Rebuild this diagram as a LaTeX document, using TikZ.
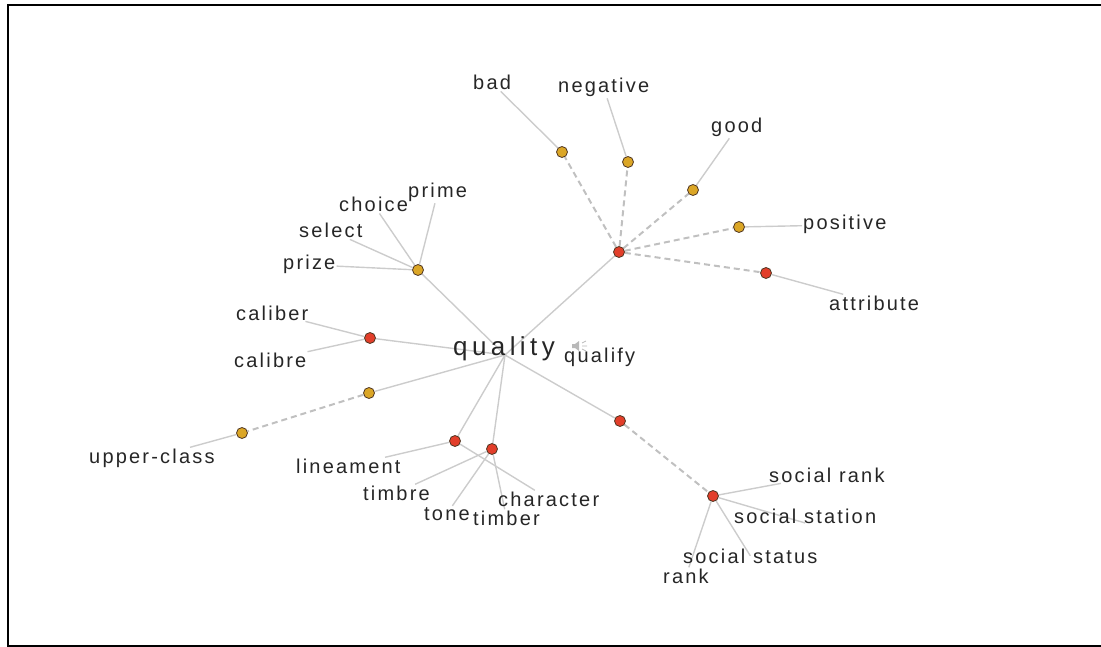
\documentclass[tikz,border=0pt]{standalone}
\usepackage{fontspec}
\setmainfont{Liberation Sans}
\newfontfamily\wordfont[LetterSpace=11]{Liberation Sans}
\newfontfamily\headfont[LetterSpace=17]{Liberation Sans}
\usetikzlibrary{backgrounds}
\definecolor{sensered}{RGB}{226,62,42}
\definecolor{senseyellow}{RGB}{219,166,38}
\definecolor{dotrim}{RGB}{80,55,35}
\definecolor{linkgray}{RGB}{204,204,204}
\definecolor{dashgray}{RGB}{192,192,192}

\begin{document}
\begin{tikzpicture}[x=1pt,y=-1pt,
    redpt/.style={circle,draw=dotrim,line width=0.8pt,fill=sensered,minimum size=11pt,inner sep=0pt},
    yelpt/.style={redpt,fill=senseyellow},
    word/.style={anchor=base west,inner sep=1pt,text=black!85,font=\wordfont\fontsize{20}{22}\selectfont},
    link/.style={draw=linkgray,line width=1.4pt},
    dlink/.style={draw=dashgray,line width=2pt,dash pattern=on 6pt off 4pt}]
            \useasboundingbox (0,0) rectangle (1101,647);
            % frame
            \draw[line width=2pt] (1101,5.5) -- (7.5,5.5) -- (7.5,645.5) -- (1101,645.5);

            % sense points
            \coordinate (hub) at (505,355);
            \node[redpt] (nsenti) at (619,252) {};
            \node[yelpt] (nbad) at (562,152) {};
            \node[yelpt] (nneg) at (628,162) {};
            \node[yelpt] (ngood) at (693,190) {};
            \node[yelpt] (npos) at (739,227) {};
            \node[redpt] (nattr) at (766,273) {};
            \node[yelpt] (nprime) at (418,270) {};
            \node[redpt] (ncal) at (370,338) {};
            \node[yelpt] (nupper) at (369,393) {};
            \node[yelpt] (nclass) at (242,433) {};
            \node[redpt] (nline) at (455,441) {};
            \node[redpt] (ntone) at (492,449) {};
            \node[redpt] (nstand) at (620,421) {};
            \node[redpt] (nsoc) at (713,496) {};

            % words
            \node[word] (bad) at (472,90) {bad};
            \node[word] (negative) at (557,93) {negative};
            \node[word] (good) at (710,133) {good};
            \node[word] (positive) at (802,230) {positive};
            \node[word] (attribute) at (828,310) {attribute};
            \node[word] (prime) at (407,198) {prime};
            \node[word] (choice) at (338,212) {choice};
            \node[word] (select) at (298,238) {select};
            \node[word] (prize) at (282,270) {prize};
            \node[word] (caliber) at (235,320) {caliber};
            \node[word] (calibre) at (233,367) {calibre};
            \node[word] (upperclass) at (88,463) {upper-class};
            \node[word] (lineament) at (295,473) {lineament};
            \node[word] (timbre) at (362,500) {timbre};
            \node[word] (tone) at (423,520) {tone};
            \node[word] (timber) at (472,525) {timber};
            \node[word] (character) at (497,506) {character};
            \node[word] (socrank) at (768,482) {social rank};
            \node[word] (socstation) at (733,523) {social station};
            \node[word] (socstatus) at (682,563) {social status};
            \node[word] (rank) at (662,583) {rank};
            \node[word] (qualify) at (563,362) {qualify};
            \node[word,font=\headfont\fontsize{26}{28}\selectfont] (quality) at (452,355) {quality};

            % speaker icon
            \fill[gray!55] (572,344) rectangle (575,348) (575,344) -- (579,341) -- (579,351) -- (575,348) -- cycle;
            \draw[gray!55,line width=0.8pt] (582,343) -- (586,341) (582,346) -- (587,346) (582,349) -- (586,351);

\begin{scope}[on background layer]
            \draw[link] (hub) -- (nsenti);
            \draw[link] (hub) -- (nprime);
            \draw[link] (hub) -- (ncal);
            \draw[link] (hub) -- (nupper);
            \draw[link] (hub) -- (nline);
            \draw[link] (hub) -- (ntone);
            \draw[link] (hub) -- (nstand);

            \draw[dlink] (nsenti) -- (nbad);
            \draw[dlink] (nsenti) -- (nneg);
            \draw[dlink] (nsenti) -- (ngood);
            \draw[dlink] (nsenti) -- (npos);
            \draw[dlink] (nsenti) -- (nattr);
            \draw[dlink] (nupper) -- (nclass);
            \draw[dlink] (nstand) -- (nsoc);

            \draw[link] (nbad) -- (bad);
            \draw[link] (nneg) -- (negative);
            \draw[link] (ngood) -- (good);
            \draw[link] (npos) -- (positive);
            \draw[link] (nattr) -- (attribute);
            \draw[link] (nprime) -- (prime);
            \draw[link] (nprime) -- (choice);
            \draw[link] (nprime) -- (select);
            \draw[link] (nprime) -- (prize);
            \draw[link] (ncal) -- (caliber);
            \draw[link] (ncal) -- (calibre);
            \draw[link] (nclass) -- (upperclass);
            \draw[link] (nline) -- (lineament);
            \draw[link] (nline) -- (character);
            \draw[link] (ntone) -- (timbre);
            \draw[link] (ntone) -- (tone);
            \draw[link] (ntone) -- (timber);
            \draw[link] (nsoc) -- (socrank);
            \draw[link] (nsoc) -- (socstation.base);
            \draw[link] (nsoc) -- (socstatus.center);
            \draw[link] (nsoc) -- (rank);
\end{scope}
\end{tikzpicture}
\end{document}
